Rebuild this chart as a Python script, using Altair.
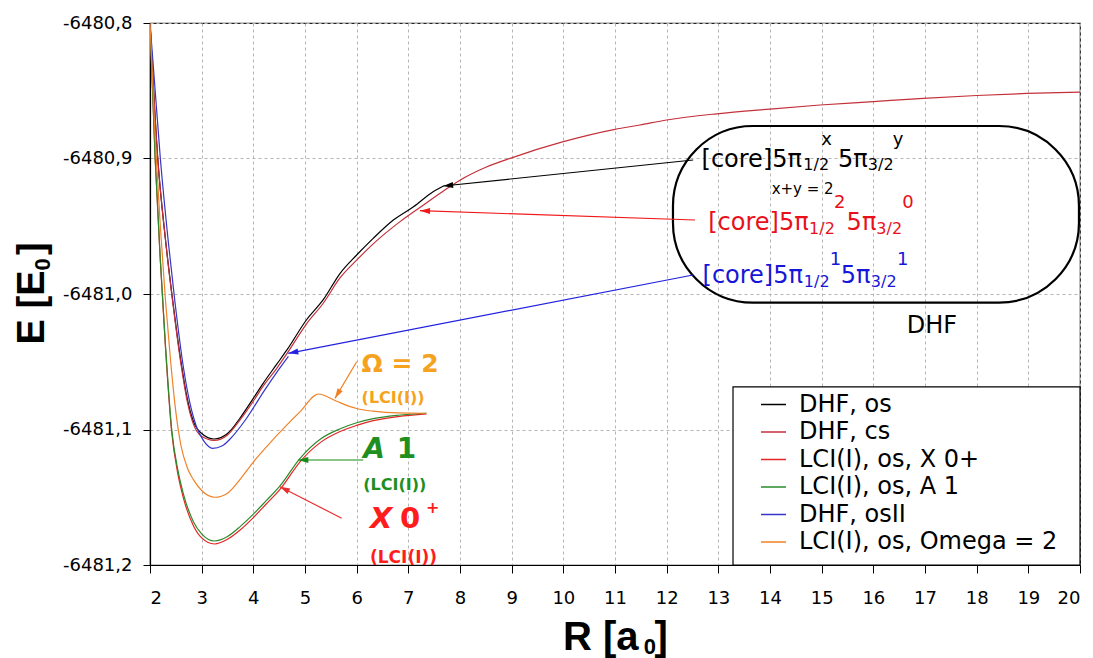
import math
import altair as alt
import pandas as pd

# ---------------- series data ----------------
series_names = ["DHF, os", "DHF, cs", "LCI(I), os, X 0+", "LCI(I), os, A 1",
                "DHF, osII", "LCI(I), os, Omega = 2"]
series_colors = ["#000000", "#c4303a", "#e52525", "#2b8a2b", "#3434c8", "#f08228"]

dhf_os_R = [2.0, 2.15, 2.3, 2.44, 2.6, 2.72, 2.84, 3.0, 3.24, 3.5, 3.74, 4.0, 4.19, 4.45,
            4.65, 5.03, 5.35, 5.68, 6.0, 6.32, 6.71, 7.1, 7.48, 7.68]
dhf_os_E = [-6480.80, -6480.90, -6480.96, -6481.005, -6481.05, -6481.077, -6481.094,
            -6481.103, -6481.107, -6481.103, -6481.0917, -6481.077, -6481.0659, -6481.052,
            -6481.0413, -6481.019, -6481.0044, -6480.9847, -6480.9712, -6480.9589,
            -6480.9454, -6480.9356, -6480.9245, -6480.9203]

dhf_cs_R = [2.0, 2.15, 2.3, 2.44, 2.6, 2.72, 2.84, 3.0, 3.24, 3.5, 3.74, 4.0, 4.19, 4.45,
            4.65, 5.03, 5.35, 5.68, 6.0, 6.32, 6.84, 7.23, 7.68, 8.0, 8.5, 9.0, 10.0, 11.0,
            11.48, 12.0, 12.97, 14.0, 14.97, 16.0, 16.97, 18.0, 18.97, 20.0]
dhf_cs_E = [-6480.80, -6480.90, -6480.96, -6481.006, -6481.052, -6481.079, -6481.096,
            -6481.105, -6481.108, -6481.104, -6481.093, -6481.079, -6481.068, -6481.055,
            -6481.044, -6481.022, -6481.007, -6480.988, -6480.975, -6480.963, -6480.9466,
            -6480.936, -6480.924, -6480.916, -6480.9065, -6480.8995, -6480.8876, -6480.8785,
            -6480.8753, -6480.8716, -6480.867, -6480.8635, -6480.8605, -6480.858,
            -6480.8556, -6480.8535, -6480.852, -6480.851]

lci_R = [2.0, 2.1, 2.2, 2.3, 2.42, 2.54, 2.65, 2.84, 3.0, 3.25, 3.5, 3.75, 4.0, 4.25,
         4.52, 4.9, 5.3, 5.68, 6.0, 6.32, 6.8, 7.35]
lci_x0_E = [-6480.80, -6480.90, -6480.975, -6481.04, -6481.102, -6481.133, -6481.151,
            -6481.171, -6481.180, -6481.1845, -6481.181, -6481.174, -6481.165, -6481.155,
            -6481.144, -6481.124, -6481.1095, -6481.1015, -6481.097, -6481.0935,
            -6481.0905, -6481.0885]
lci_a1_E = [-6480.80, -6480.90, -6480.975, -6481.038, -6481.10, -6481.13, -6481.148,
            -6481.168, -6481.177, -6481.1823, -6481.179, -6481.1715, -6481.1625,
            -6481.1525, -6481.1415, -6481.1215, -6481.107, -6481.0995, -6481.095,
            -6481.092, -6481.0895, -6481.088]

dhf_os2_R = [2.0, 2.2, 2.35, 2.48, 2.65, 2.77, 2.9, 3.05, 3.21, 3.4, 3.55, 3.87, 4.2,
             4.45, 4.68]
dhf_os2_E = [-6480.80, -6480.90, -6480.96, -6481.005, -6481.055, -6481.08, -6481.098,
             -6481.109, -6481.1139, -6481.112, -6481.107, -6481.0917, -6481.072,
             -6481.058, -6481.046]

omega_R = [2.0, 2.1, 2.2, 2.3, 2.4, 2.5, 2.6, 2.72, 2.84, 3.0, 3.26, 3.5, 3.74, 4.0,
           4.38, 4.9, 5.26, 5.6, 6.0, 6.32, 6.8, 7.35]
omega_E = [-6480.80, -6480.885, -6480.95, -6481.005, -6481.05, -6481.087, -6481.112,
           -6481.128, -6481.137, -6481.145, -6481.150, -6481.147, -6481.137, -6481.124,
           -6481.1075, -6481.087, -6481.0738, -6481.079, -6481.0845, -6481.0865,
           -6481.0878, -6481.088]

x_ticks = list(range(2, 21))
y_ticks = [-6481.2, -6481.1, -6481.0, -6480.9, -6480.8]

# ---------------- annotation data ----------------
# arrows: start (R, E) -> tip (R, E)
arrow_R0 = [12.512, 12.548, 12.509, 6.0, 6.128, 5.71]
arrow_E0 = [-6480.9011, -6480.9454, -6480.986, -6481.05, -6481.1225, -6481.1655]
arrow_R1 = [7.674, 7.226, 4.677, 5.581, 4.870, 4.516]
arrow_E1 = [-6480.9203, -6480.9385, -6481.0438, -6481.077, -6481.1225, -6481.1422]
arrow_col = ["#000000", "#f01818", "#2222e0", "#f08020", "#158a15", "#e83030"]

# text pieces: text, R, E, font size, colour, style
BLK, RED, BLU = "#000000", "#e8101a", "#1616d8"
ORG, GRN, XRD = "#f5a21e", "#1f8f1f", "#ff1c1c"
ann = [
    ("[core]5π", 12.675, -6480.9061, 24, BLK, "n"),
    ("1/2", 14.645, -6480.9085, 16, BLK, "n"),
    ("x", 14.991, -6480.8900, 18, BLK, "n"),
    ("5π", 15.317, -6480.9061, 24, BLK, "n"),
    ("3/2", 15.894, -6480.9085, 16, BLK, "n"),
    ("y", 16.378, -6480.8900, 18, BLK, "n"),
    ("x+y = 2", 14.032, -6480.9262, 15, BLK, "n"),
    ("[core]5π", 12.804, -6480.9528, 24, RED, "n"),
    ("1/2", 14.756, -6480.9554, 16, RED, "n"),
    ("2", 15.240, -6480.9368, 18, RED, "n"),
    ("5π", 15.483, -6480.9528, 24, RED, "n"),
    ("3/2", 16.058, -6480.9554, 16, RED, "n"),
    ("0", 16.562, -6480.9368, 18, RED, "n"),
    ("[core]5π", 12.694, -6480.9921, 24, BLU, "n"),
    ("1/2", 14.655, -6480.9948, 16, BLU, "n"),
    ("1", 15.158, -6480.9786, 18, BLU, "n"),
    ("5π", 15.371, -6480.9921, 24, BLU, "n"),
    ("3/2", 15.952, -6480.9948, 16, BLU, "n"),
    ("1", 16.457, -6480.9786, 18, BLU, "n"),
    ("DHF", 16.645, -6481.029, 24, BLK, "n"),
    ("Ω = 2", 6.095, -6481.0578, 25, ORG, "b"),
    ("(LCI(I))", 6.095, -6481.0801, 16, ORG, "b"),
    ("A", 6.128, -6481.1213, 28, GRN, "bi"),
    ("1", 6.778, -6481.1213, 28, GRN, "b"),
    ("(LCI(I))", 6.128, -6481.1449, 16, GRN, "b"),
    ("X", 6.258, -6481.1729, 29, XRD, "bi"),
    ("0", 6.839, -6481.1729, 29, XRD, "b"),
    ("+", 7.34, -6481.1616, 16, XRD, "b"),
    ("(LCI(I))", 6.258, -6481.1982, 17, XRD, "b"),
]

# axis titles as text pieces (main part, subscript, closing bracket)
xtitle = [("R [a", 9.993, -6481.2629, 40), ("0", 11.555, -6481.2658, 22),
          ("]", 11.765, -6481.2629, 40)]
ytitle = [("E [E", -0.0516, -6481.0372, 38), ("0", 0.0645, -6480.9827, 22),
          ("]", -0.0516, -6480.9712, 38)]

# rounded box and legend frame (data coordinates)
box = {"R": [12.122], "R2": [19.98], "E": [-6480.876], "E2": [-6481.0064]}
legend_frame = {"R": [13.284], "R2": [20.0], "E": [-6481.0686], "E2": [-6481.2]}

# ---------------- build ----------------
W, H = 930, 542
XD, YD = (2, 20), (-6481.2, -6480.8)

frames = []
for name, R, E in [(series_names[0], dhf_os_R, dhf_os_E),
                   (series_names[1], dhf_cs_R, dhf_cs_E),
                   (series_names[2], lci_R, lci_x0_E),
                   (series_names[3], lci_R, lci_a1_E),
                   (series_names[4], dhf_os2_R, dhf_os2_E),
                   (series_names[5], omega_R, omega_E)]:
    frames.append(pd.DataFrame({"R": R, "E": E, "series": name}))
lines_df = pd.concat(frames, ignore_index=True)

xscale = alt.Scale(domain=list(XD), nice=False, zero=False)
yscale = alt.Scale(domain=list(YD), nice=False, zero=False)
xaxis = alt.Axis(values=x_ticks, title=None, grid=True, tickSize=8, labelPadding=16,
                 labelFontSize=18)
yaxis = alt.Axis(values=y_ticks, title=None, grid=True, tickSize=7, labelPadding=11,
                 labelFontSize=18,
                 labelExpr="'-' + replace(format(-datum.value, '.1f'), '.', ',')")
X = alt.X("R:Q", scale=xscale, axis=xaxis)
Y = alt.Y("E:Q", scale=yscale, axis=yaxis)

lines = alt.Chart(lines_df).mark_line(strokeWidth=1.2, clip=True,
                                      interpolate="monotone").encode(
    x=X, y=Y,
    color=alt.Color("series:N",
                    scale=alt.Scale(domain=series_names, range=series_colors),
                    legend=alt.Legend(title=None, orient="none", legendX=610, legendY=368,
                                      symbolType="stroke", symbolSize=625,
                                      symbolStrokeWidth=1.5, labelFontSize=24,
                                      labelFont="DejaVu Sans", labelColor="black",
                                      padding=0, rowPadding=1.5, labelOffset=12,
                                      labelLimit=500)),
    detail="series:N",
)

box_layer = alt.Chart(pd.DataFrame(box)).mark_rect(
    fillOpacity=0, stroke="black", strokeWidth=2.2, cornerRadius=80
).encode(x=X, x2="R2", y=Y, y2="E2")

frame_layer = alt.Chart(pd.DataFrame(legend_frame)).mark_rect(
    fill="white", stroke="black", strokeWidth=1.2
).encode(x=X, x2="R2", y=Y, y2="E2")


def px(r):
    return (r - XD[0]) / (XD[1] - XD[0]) * W


def py(e):
    return (YD[1] - e) / (YD[1] - YD[0]) * H


angles = []
for r0, e0, r1, e1 in zip(arrow_R0, arrow_E0, arrow_R1, arrow_E1):
    dx = px(r1) - px(r0)
    dy = py(e1) - py(e0)
    angles.append(math.degrees(math.atan2(dx, -dy)) % 360)

arrows_df = pd.DataFrame({"R": arrow_R0, "E": arrow_E0, "R2": arrow_R1, "E2": arrow_E1,
                          "col": arrow_col, "ang": angles})
arrow_lines = alt.Chart(arrows_df).mark_rule(strokeWidth=1.2).encode(
    x=X, y=Y, x2="R2", y2="E2", stroke=alt.Stroke("col:N", scale=None))
heads_df = pd.DataFrame({"R": arrow_R1, "E": arrow_E1, "col": arrow_col, "ang": angles})
arrow_heads = alt.Chart(heads_df).mark_point(
    shape="M0,0L0.6,2L-0.6,2Z", filled=True, size=100, opacity=1
).encode(x=X, y=Y, fill=alt.Fill("col:N", scale=None),
         angle=alt.Angle("ang:Q", scale=None))

ann_df = pd.DataFrame(ann, columns=["text", "R", "E", "fs", "col", "st"])
text_layers = []
for st, weight, style in [("n", "normal", "normal"), ("b", "bold", "normal"),
                          ("bi", "bold", "italic")]:
    sub = ann_df[ann_df["st"] == st]
    text_layers.append(
        alt.Chart(sub).mark_text(align="left", baseline="alphabetic", font="DejaVu Sans",
                                 fontWeight=weight, fontStyle=style).encode(
            x=X, y=Y, text="text:N", size=alt.Size("fs:Q", scale=None),
            fill=alt.Fill("col:N", scale=None))
    )

xt_df = pd.DataFrame(xtitle, columns=["text", "R", "E", "fs"])
xt_layer = alt.Chart(xt_df).mark_text(
    align="left", baseline="alphabetic", font="Liberation Sans", fontWeight="bold",
    color="black", clip=False
).encode(x=X, y=Y, text="text:N", size=alt.Size("fs:Q", scale=None))

yt_df = pd.DataFrame(ytitle, columns=["text", "R", "E", "fs"])
yt_layer = alt.Chart(yt_df).mark_text(
    align="left", baseline="alphabetic", font="Liberation Sans", fontWeight="bold",
    color="black", angle=270, clip=False
).encode(x=X, y=Y, text="text:N", size=alt.Size("fs:Q", scale=None))

chart = alt.layer(lines, box_layer, frame_layer, arrow_lines, arrow_heads,
                  *text_layers, xt_layer, yt_layer).properties(
    width=W, height=H,
    autosize=alt.AutoSizeParams(type="none"),
    padding={"left": 150, "top": 23, "right": 13, "bottom": 93},
    background="white",
).configure(font="DejaVu Sans").configure_view(
    stroke="#222222", strokeWidth=1.2
).configure_axis(
    domainColor="black", domainWidth=1.2, tickColor="black", labelColor="black",
    gridColor="#b5b5b5", gridDash=[3, 3], gridWidth=1, labelFont="DejaVu Sans"
)

chart.save("out.html", embed_options={"renderer": "svg", "actions": False})
